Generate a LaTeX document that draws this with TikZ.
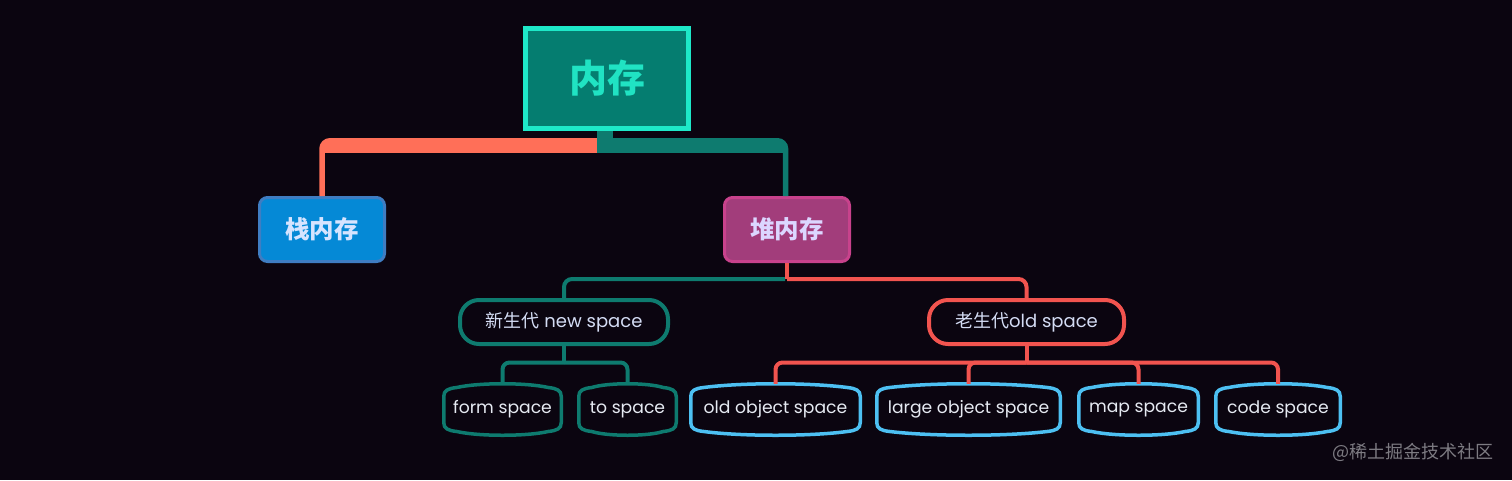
\documentclass[tikz,border=0pt]{standalone}
\usepackage{fontspec}
\setmainfont{Poppins}
\newfontfamily\cjk{Noto Sans CJK SC}
\usetikzlibrary{calc}
\definecolor{bg}{HTML}{0B0510}
\definecolor{cteal}{HTML}{0E7B6F}
\definecolor{ccoral}{HTML}{FF6F58}
\definecolor{cred}{HTML}{F2544F}
\definecolor{cblue}{HTML}{4DC0F2}
\definecolor{rootfill}{HTML}{057D70}
\definecolor{rootborder}{HTML}{1EE8C8}
\definecolor{roottext}{HTML}{20E3C3}
\definecolor{stackfill}{HTML}{0589D6}
\definecolor{stackborder}{HTML}{3F7DC2}
\definecolor{stacktext}{HTML}{D6E4FF}
\definecolor{heapfill}{HTML}{A23D7B}
\definecolor{heapborder}{HTML}{C8428C}
\definecolor{heaptext}{HTML}{DCD6FF}
\definecolor{pilltext}{HTML}{D4DCF4}
\definecolor{leaftext}{HTML}{E6EAF2}
\definecolor{wmtext}{HTML}{7D7B82}
\tikzset{
  conn/.style={line width=4pt},
  topbox/.style={draw, line width=3pt, rounded corners=8pt, minimum width=125pt, minimum height=64pt, inner sep=0pt, font=\cjk\bfseries\fontsize{24.5}{28}\selectfont},
  pill/.style={draw, line width=4pt, rounded corners=19pt, fill=bg, inner sep=0pt, minimum height=44pt, font=\fontsize{18}{22}\selectfont, text=pilltext},
  leaf/.style={inner sep=0pt, outer sep=0pt, minimum height=51.5pt, font=\fontsize{17.2}{21}\selectfont, text=leaftext},
}
\newcommand{\leafshape}[2]{%
  \draw[#2, line width=3.5pt]
  ($(#1.west)+(0,-13)$) .. controls ($(#1.west)+(0,-19)$) and ($(#1.west)+(4,-21)$) .. ($(#1.west)+(13,-22)$)
  .. controls ($(#1.west)!0.3!(#1.east)+(0,-27)$) and ($(#1.west)!0.7!(#1.east)+(0,-27)$) .. ($(#1.east)+(-13,-22)$)
  .. controls ($(#1.east)+(-4,-21)$) and ($(#1.east)+(0,-19)$) .. ($(#1.east)+(0,-13)$)
  -- ($(#1.east)+(0,13)$)
  .. controls ($(#1.east)+(0,19)$) and ($(#1.east)+(-4,21)$) .. ($(#1.east)+(-13,22)$)
  .. controls ($(#1.west)!0.7!(#1.east)+(0,27)$) and ($(#1.west)!0.3!(#1.east)+(0,27)$) .. ($(#1.west)+(13,22)$)
  .. controls ($(#1.west)+(4,21)$) and ($(#1.west)+(0,19)$) .. ($(#1.west)+(0,13)$) -- cycle;}
\begin{document}
\begin{tikzpicture}[x=1pt,y=-1pt]
\fill[bg] (0,0) rectangle (1512,480);
\useasboundingbox (0,0) rectangle (1512,480);

% nodes
\node[draw=rootborder, fill=rootfill, line width=5pt, minimum width=163pt, minimum height=100pt, inner sep=0pt, text=roottext, font=\cjk\bfseries\fontsize{38}{44}\selectfont] (root) at (607,78.5) {内存};
\node[topbox, draw=stackborder, fill=stackfill, text=stacktext] (stack) at (322,229.5) {栈内存};
\node[topbox, draw=heapborder, fill=heapfill, text=heaptext] (heap) at (787,229.5) {堆内存};

\node[pill, draw=cteal, minimum width=208pt] (newn) at (564,322) {{\cjk 新生代} new space};
\node[pill, draw=cred, minimum width=195pt] (oldn) at (1026.5,322) {{\cjk 老生代}old space};

\node[leaf, minimum width=117.5pt] (formsp) at (502.5,409.5) {form space};
\node[leaf, minimum width=97.5pt] (tosp) at (627.5,409.5) {to space};
\node[leaf, minimum width=169.5pt] (oldobj) at (775.5,409.5) {old object space};
\node[leaf, minimum width=183.5pt] (large) at (968.5,409.5) {large object space};
\node[leaf, minimum width=119.5pt] (mapsp) at (1138.5,409.5) {map space};
\node[leaf, minimum width=124.5pt] (codesp) at (1278,409.5) {code space};
\leafshape{formsp}{cteal}
\leafshape{tosp}{cteal}
\leafshape{oldobj}{cblue}
\leafshape{large}{cblue}
\leafshape{mapsp}{cblue}
\leafshape{codesp}{cblue}

% top bar
\coordinate (tj) at (605,145.5);
\draw[ccoral, line width=5.5pt, rounded corners=8pt] (stack.north) |- ($(tj)+(-8,-4.75)$);
\fill[ccoral] ($(stack.north |- tj)+(2.5,-4.5)$) rectangle ($(tj)+(-8,7.5)$);
\draw[cteal, line width=5.5pt, rounded corners=8pt] ([xshift=-1.5pt]heap.north) |- ($(tj)+(-8,-4.75)$);
\fill[cteal] ($(tj)+(-8,-4.5)$) rectangle ($([xshift=-1.5pt]heap.north |- tj)+(-2.5,7.5)$);
\fill[cteal] ($(root.south)+(-10,0)$) rectangle ($(root.south)+(6,10)$);

% heap connectors
\coordinate (hl) at (787,279);
\draw[cteal, conn, rounded corners=8pt] ($(heap.south |- hl)+(-2,0)$) -| (newn.north);
\draw[cred, conn] (heap.south) -- (heap.south |- hl);
\draw[cred, conn, rounded corners=8pt] (heap.south |- hl) -| (oldn.north);

% new space connectors
\coordinate (nl) at (564,362.5);
\draw[cteal, conn] (newn.south) -- (newn.south |- nl);
\draw[cteal, conn, rounded corners=7pt] (newn.south |- nl) -| (formsp.north);
\draw[cteal, conn, rounded corners=7pt] (newn.south |- nl) -| (tosp.north);

% old space connectors
\coordinate (ol) at (1026.5,362.5);
\draw[cred, conn] (oldn.south) -- (oldn.south |- ol);
\draw[cred, conn, rounded corners=7pt] (oldn.south |- ol) -| (oldobj.north);
\draw[cred, conn, rounded corners=7pt] (oldn.south |- ol) -| (large.north);
\draw[cred, conn, rounded corners=7pt] (oldn.south |- ol) -| (mapsp.north);
\draw[cred, conn, rounded corners=7pt] (oldn.south |- ol) -| (codesp.north);

\node[text=wmtext, font=\cjk\fontsize{18}{21}\selectfont, anchor=east, inner sep=0pt] (wm) at (1494,452) {@稀土掘金技术社区};
\end{tikzpicture}
\end{document}
